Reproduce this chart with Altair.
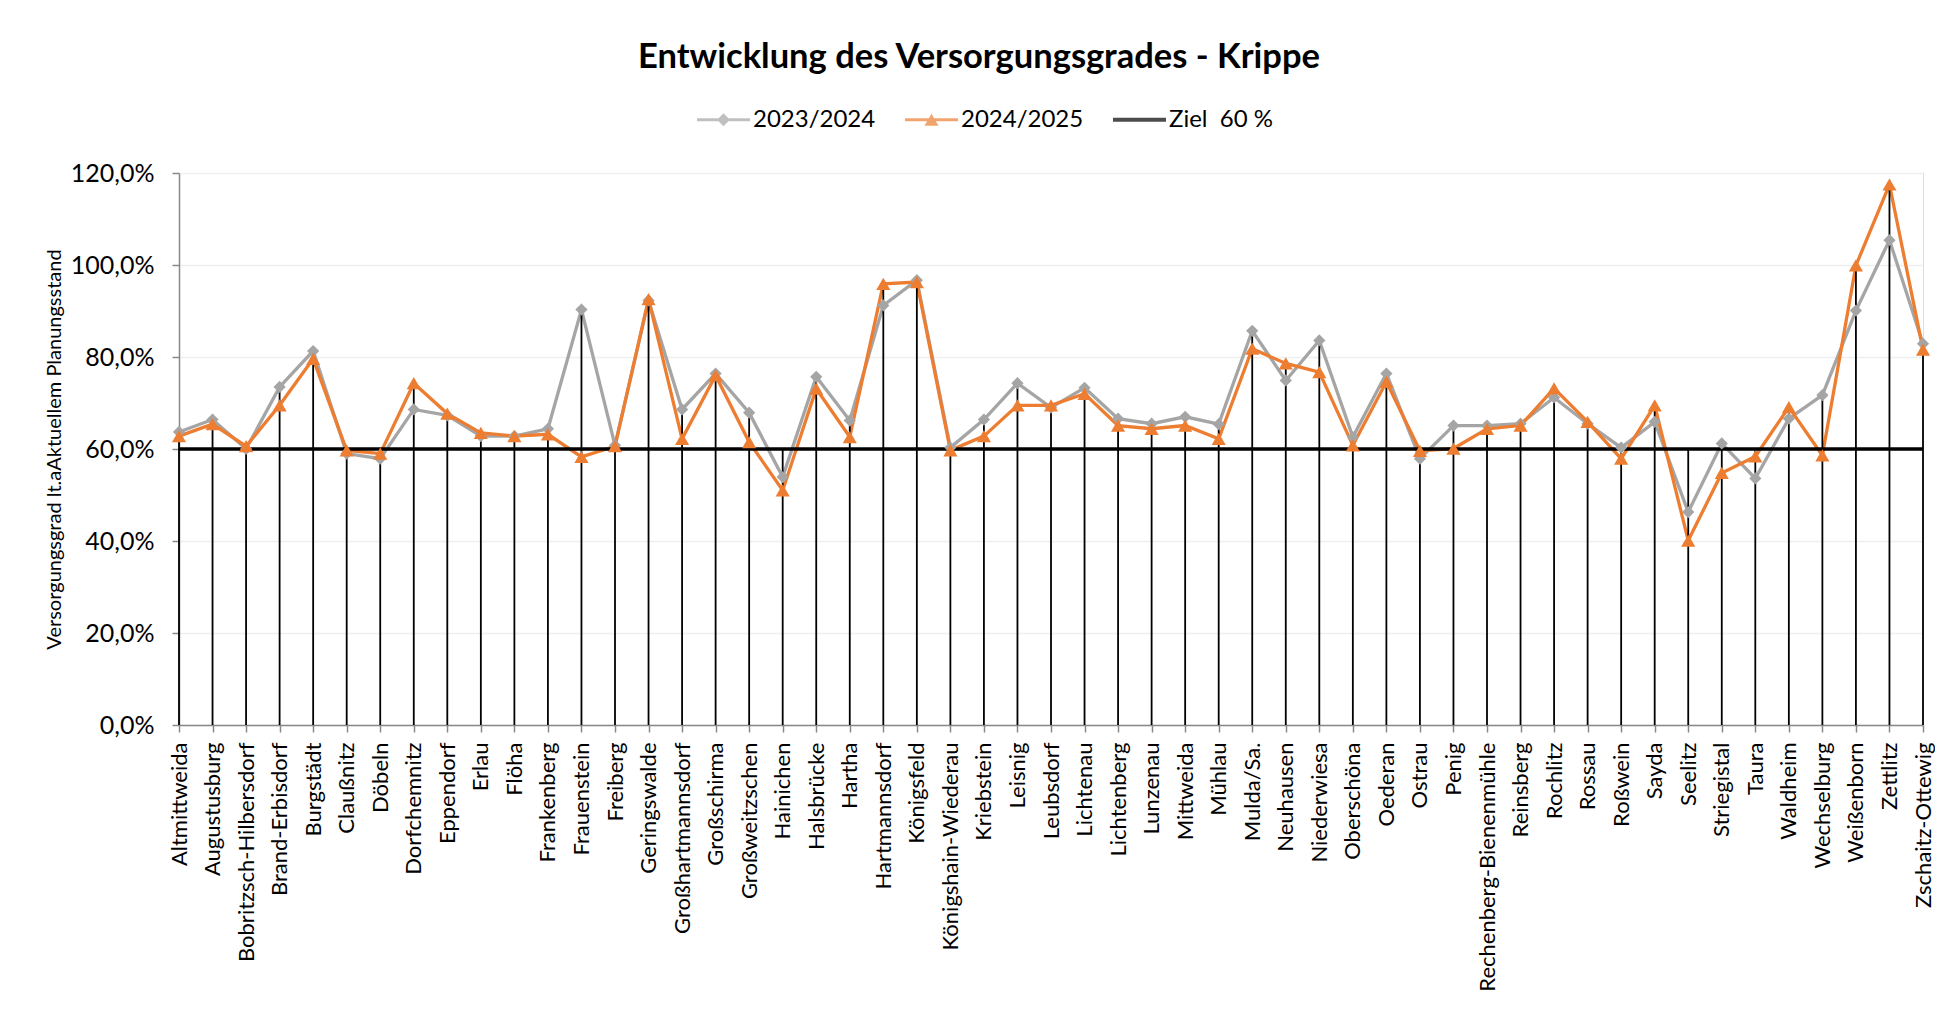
import altair as alt
import pandas as pd

# ---------------- data ----------------
KOMMUNEN = [
    "Altmittweida", "Augustusburg", "Bobritzsch-Hilbersdorf", "Brand-Erbisdorf", "Burgstädt",
    "Claußnitz", "Döbeln", "Dorfchemnitz", "Eppendorf", "Erlau", "Flöha", "Frankenberg",
    "Frauenstein", "Freiberg", "Geringswalde", "Großhartmannsdorf", "Großschirma",
    "Großweitzschen", "Hainichen", "Halsbrücke", "Hartha", "Hartmannsdorf", "Königsfeld",
    "Königshain-Wiederau", "Kriebstein", "Leisnig", "Leubsdorf", "Lichtenau", "Lichtenberg",
    "Lunzenau", "Mittweida", "Mühlau", "Mulda/Sa.", "Neuhausen", "Niederwiesa", "Oberschöna",
    "Oederan", "Ostrau", "Penig", "Rechenberg-Bienenmühle", "Reinsberg", "Rochlitz", "Rossau",
    "Roßwein", "Sayda", "Seelitz", "Striegistal", "Taura", "Waldheim", "Wechselburg",
    "Weißenborn", "Zettlitz", "Zschaitz-Ottewig",
]

# Versorgungsgrad in %
V_2023_2024 = [
    63.7, 66.4, 60.0, 73.5, 81.3, 59.0, 57.9, 68.6, 67.3, 62.8, 62.8, 64.4, 90.3, 60.8,
    92.3, 68.6, 76.4, 67.9, 53.9, 75.7, 66.2, 91.2, 96.7, 60.3, 66.4, 74.3, 69.0, 73.3,
    66.6, 65.5, 67.0, 65.4, 85.7, 74.9, 83.6, 62.6, 76.4, 57.9, 65.1, 65.1, 65.5, 71.2,
    65.5, 60.3, 65.9, 46.3, 61.2, 53.6, 66.6, 71.7, 90.1, 105.4, 82.9,
]
V_2024_2025 = [
    62.8, 65.4, 60.6, 69.5, 79.6, 59.7, 59.0, 74.3, 67.7, 63.5, 62.8, 63.2, 58.3, 60.6,
    92.6, 62.2, 76.0, 61.5, 51.0, 73.1, 62.6, 95.9, 96.3, 59.7, 62.8, 69.5, 69.5, 72.0,
    65.1, 64.4, 65.1, 62.2, 81.8, 78.6, 76.7, 60.8, 74.6, 59.6, 60.1, 64.4, 65.1, 73.2,
    65.9, 57.9, 69.5, 40.1, 54.8, 58.4, 69.1, 58.6, 99.9, 117.5, 81.6,
]
ZIEL = 60.0

SERIES = ["2023/2024", "2024/2025", "Ziel\u00a0 60 %"]
COLORS = ["#A5A5A5", "#ED7D31", "#000000"]
Y_TICKS = [0, 0.2, 0.4, 0.6, 0.8, 1.0, 1.2]

assert len(KOMMUNEN) == len(V_2023_2024) == len(V_2024_2025)

df = pd.DataFrame({
    "Kommune": KOMMUNEN,
    "a": [v / 100 for v in V_2023_2024],
    "b": [v / 100 for v in V_2024_2025],
    "z": [ZIEL / 100] * len(KOMMUNEN),
})

FONT = "Lato"
GRAY, ORANGE, BLACK = COLORS

# ---------------- encodings ----------------
x = alt.X(
    "Kommune:N",
    sort=KOMMUNEN,
    scale=alt.Scale(type="point", padding=0),
    axis=alt.Axis(
        title=None, labelAngle=270, labelFont=FONT, labelFontSize=22, labelColor="black",
        labelPadding=10, labelLimit=500, labelOverlap=False,
        domainColor="#898989", domainWidth=1.5, tickColor="#898989", tickWidth=1.5,
        tickSize=7, grid=False,
    ),
)

yscale = alt.Scale(domain=[0, 1.2], nice=False)
yaxis = alt.Axis(
    values=Y_TICKS,
    labelExpr="replace(format(datum.value, '.1%'), '.', ',')",
    labelFont=FONT, labelFontSize=25, labelColor="black", labelPadding=18,
    domainColor="#898989", domainWidth=1.5, tickColor="#898989", tickWidth=1.5, tickSize=7,
    gridColor="#EFEFEF", gridWidth=1.5,
    title="Versorgungsgrad lt.aAktuellem Planungsstand",
    titleFont=FONT, titleFontSize=20, titleFontWeight="normal", titleColor="black",
    titleAngle=270, titleX=-125, titleY=276, titleAlign="center", titleBaseline="middle",
)

base = alt.Chart(df)

line_a = base.mark_line(color=GRAY, strokeWidth=3.3).encode(
    x=x, y=alt.Y("a:Q", scale=yscale, axis=yaxis))
line_b = base.mark_line(color=ORANGE, strokeWidth=3.3).encode(x=x, y=alt.Y("b:Q"))

drop = base.transform_calculate(
    top="max(datum.a, datum.b, datum.z)", zero="0"
).mark_rule(color=BLACK, strokeWidth=1.8).encode(
    x=x, y=alt.Y("top:Q"), y2=alt.Y2("zero:Q"))

ziel = base.mark_line(color=BLACK, strokeWidth=3.5).encode(x=x, y="z:Q")

pts_a = base.mark_point(shape="diamond", filled=True, color=GRAY, size=150, opacity=1).encode(
    x=x, y="a:Q")
pts_b = base.mark_point(shape="triangle-up", filled=True, color=ORANGE, size=200, opacity=1).encode(
    x=x, y="b:Q")

# legend-only layer (no marks drawn): custom symbols = line with marker
P_A = ("M-1,-0.057L-0.188,-0.057L0,-0.245L0.188,-0.057L1,-0.057L1,0.057L0.188,0.057"
       "L0,0.245L-0.188,0.057L-1,0.057Z")
P_B = ("M-1,-0.06L-0.097,-0.06L0,-0.226L0.097,-0.06L1,-0.06L1,0.06L0.167,0.06"
       "L0.264,0.226L-0.264,0.226L-0.167,0.06L-1,0.06Z")
P_Z = "M-1,-0.075L1,-0.075L1,0.075L-1,0.075Z"

legend_layer = alt.Chart(pd.DataFrame({"Serie": SERIES})).transform_filter("false").mark_point(
    filled=True
).encode(
    color=alt.Color("Serie:N", scale=alt.Scale(domain=SERIES, range=COLORS), legend=alt.Legend(
        title=None, orient="none", legendX=518, legendY=-80, direction="horizontal", columns=3,
        labelFont=FONT, labelFontSize=24, labelColor="black", labelOffset=3,
        columnPadding=29, symbolSize=2809, symbolStrokeWidth=0, padding=0,
    )),
    shape=alt.Shape("Serie:N", scale=alt.Scale(domain=SERIES, range=[P_A, P_B, P_Z])),
)

chart = alt.layer(line_a, line_b, drop, ziel, pts_a, pts_b, legend_layer).properties(
    width=1744,
    height=552,
    title=alt.TitleParams(
        "Entwicklung des Versorgungsgrades - Krippe",
        font=FONT, fontSize=34.5, fontWeight="bold", color="black",
        anchor="middle", frame="group", dx=-72, offset=18,
    ),
    autosize=alt.AutoSizeParams(type="none"),
    padding={"left": 171, "top": 165, "right": 12, "bottom": 300},
).configure_view(stroke=None).configure(background="white")

chart.save("out.html", embed_options={"renderer": "svg", "actions": False})
